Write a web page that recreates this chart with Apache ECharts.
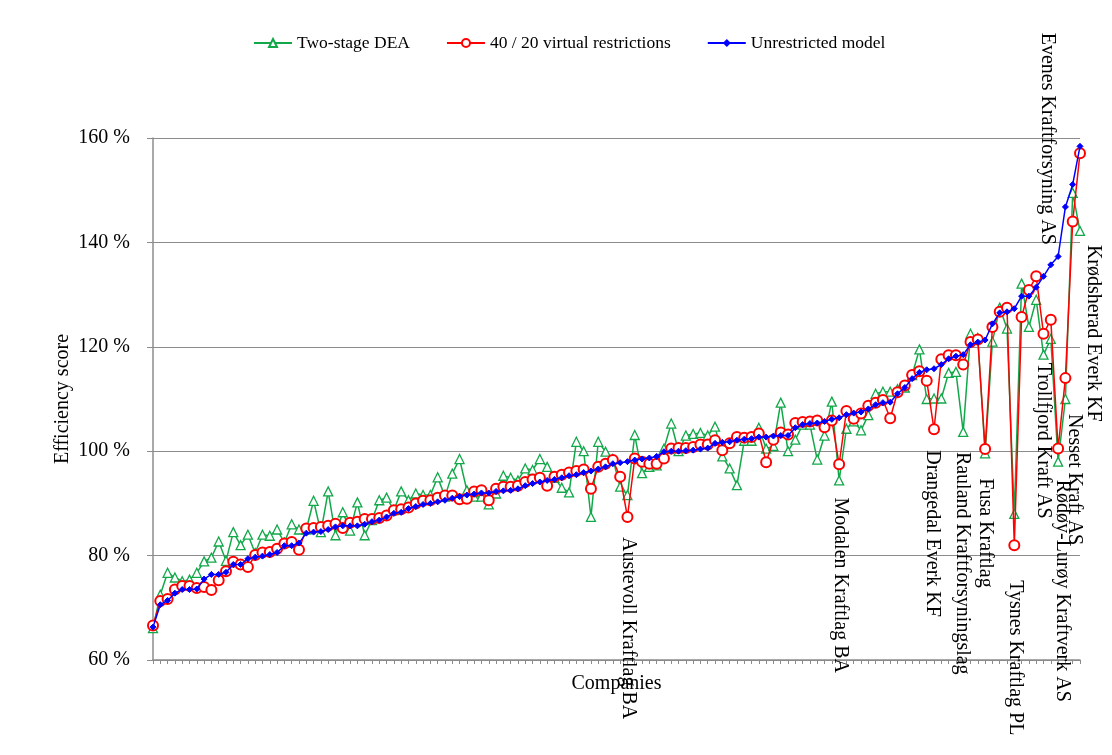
<!DOCTYPE html>
<html>
<head>
<meta charset="utf-8">
<script src="https://cdn.jsdelivr.net/npm/echarts@6/dist/echarts.min.js"></script>
<style>
  html, body { margin: 0; padding: 0; background: #fff; }
  #chart { position: absolute; left: 0; top: 0; width: 1112px; height: 755px; }
</style>
</head>
<body>
<div id="chart"></div>
<script>
// Efficiency scores (%) per company, sorted by the unrestricted model
const unrestricted = [
  66.3, 70.6, 71.4, 72.8, 73.5, 73.5, 73.6, 75.5, 76.4, 76.4,
  76.8, 78.3, 78.3, 79.4, 79.7, 79.9, 80.2, 80.6, 81.9, 81.9,
  82.4, 84.3, 84.5, 84.6, 85.0, 85.5, 85.7, 85.7, 85.7, 86.0,
  86.5, 86.8, 87.4, 88.1, 88.3, 89.0, 89.4, 89.8, 90.0, 90.3,
  90.6, 91.0, 91.3, 91.6, 91.8, 92.0, 92.0, 92.3, 92.4, 92.5,
  92.8, 93.4, 93.8, 94.1, 94.4, 94.6, 94.9, 95.3, 95.5, 95.9,
  96.2, 96.6, 97.0, 97.6, 97.8, 98.0, 98.3, 98.5, 98.7, 99.0,
  99.9, 100.0, 100.0, 100.1, 100.2, 100.4, 100.6, 101.5, 101.7, 101.8,
  102.1, 102.3, 102.4, 102.7, 102.7, 102.9, 103.0, 103.0, 104.5, 105.1,
  105.3, 105.4, 105.7, 106.1, 106.4, 107.0, 107.3, 107.5, 108.1, 108.9,
  109.3, 109.4, 111.0, 112.2, 113.9, 115.1, 115.6, 115.8, 116.6, 117.7,
  118.2, 118.5, 120.4, 120.9, 121.3, 124.4, 126.5, 126.7, 127.3, 129.7,
  129.7, 131.4, 133.5, 135.7, 137.3, 146.8, 151.1, 158.4
];
const virtualRestrictions = [
  66.6, 71.3, 71.7, 73.5, 74.2, 74.2, 73.8, 74.0, 73.4, 75.3,
  77.0, 78.8, 78.3, 77.8, 80.1, 80.6, 80.7, 81.3, 82.3, 82.6,
  81.1, 85.2, 85.3, 85.5, 85.7, 86.1, 85.3, 86.3, 86.5, 87.0,
  87.0, 87.2, 87.7, 88.7, 88.9, 89.2, 90.0, 90.5, 90.6, 91.1,
  91.5, 91.5, 90.8, 90.9, 92.3, 92.5, 90.6, 92.8, 93.2, 93.2,
  93.4, 94.1, 94.6, 94.9, 93.4, 95.1, 95.5, 95.9, 96.2, 96.5,
  92.8, 97.0, 97.6, 98.3, 95.1, 87.4, 98.6, 98.0, 97.6, 97.6,
  98.6, 100.5, 100.6, 100.6, 100.8, 101.3, 101.3, 102.1, 100.2, 101.5,
  102.7, 102.6, 102.7, 103.4, 97.9, 102.2, 103.6, 103.2, 105.4, 105.6,
  105.7, 105.9, 104.6, 105.9, 97.5, 107.7, 106.2, 107.2, 108.7, 109.3,
  109.8, 106.3, 111.3, 112.6, 114.6, 115.3, 113.5, 104.2, 117.6, 118.4,
  118.4, 116.6, 120.9, 121.4, 100.4, 123.8, 126.7, 127.5, 82.0, 125.7,
  130.9, 133.5, 122.5, 125.2, 100.5, 114.0, 144.0, 157.1
];
const twoStage = [
  66.1, 72.5, 76.7, 75.8, 75.1, 75.4, 76.7, 78.9, 79.6, 82.7,
  79.0, 84.5, 82.0, 84.0, 80.5, 84.0, 83.8, 85.0, 82.5, 86.0,
  85.0, 85.0, 90.5, 84.5, 92.3, 83.9, 88.3, 84.8, 90.2, 83.9,
  86.8, 90.6, 91.1, 88.7, 92.3, 90.6, 91.9, 91.6, 91.6, 95.0,
  91.3, 95.7, 98.5, 92.5, 91.3, 91.3, 89.8, 91.9, 95.3, 94.9,
  94.4, 96.7, 96.4, 98.5, 97.0, 94.9, 93.0, 92.1, 101.8, 100.0,
  87.4, 101.8, 99.9, 98.5, 93.2, 91.6, 103.1, 95.8, 97.0, 97.3,
  100.5, 105.3, 100.0, 103.0, 103.3, 103.5, 103.0, 104.7, 99.0, 96.7,
  93.5, 102.0, 102.0, 104.5, 100.5, 101.0, 109.3, 100.0, 102.2, 105.1,
  105.1, 98.4, 103.0, 109.5, 94.4, 104.3, 105.7, 104.0, 106.9, 111.0,
  111.4, 111.4, 111.9, 112.2, 114.6, 119.5, 110.0, 110.1, 110.1, 115.0,
  115.2, 103.7, 122.5, 121.7, 99.6, 121.0, 127.5, 123.5, 88.0, 132.1,
  123.8, 129.0, 118.5, 121.5, 98.0, 110.0, 149.5, 142.2
];
const companies = unrestricted.map((_, i) => 'C' + (i + 1));
const yTicks = [60, 80, 100, 120, 140, 160];

// Named companies and the position (index) they hold on the x axis
const namedCompanies = [
  'Austevoll Kraftlag BA', 'Modalen Kraftlag BA', 'Drangedal Everk KF',
  'Rauland Kraftforsyningslag', 'Fusa Kraftlag', 'Tysnes Kraftlag PL',
  'Trollfjord Kraft AS', 'Rødøy-Lurøy Kraftverk AS', 'Nesset Kraft AS',
  'Evenes Kraftforsyning AS', 'Krødsherad Everk KF'
];
const namedIndex = [65, 94, 107, 111, 114, 118, 122, 124, 125, 123, 127];
const namedSeries = ['r', 'g', 'r', 'g', 'g', 'r', 'g', 'g', 'r', 'b', 'g'];

// Label placement relative to the anchor point (pixels)
const labelStyle = [
  { dx: 1, dy: 20, side: 'below' },
  { dx: 1, dy: 17, side: 'below' },
  { dx: -2, dy: 21, side: 'below' },
  { dx: -1, dy: 20, side: 'below' },
  { dx: 0, dy: 25, side: 'below' },
  { dx: 1, dy: 35, side: 'below' },
  { dx: 0, dy: 8, side: 'below' },
  { dx: 4, dy: 18, side: 'below' },
  { dx: 9, dy: 36, side: 'below' },
  { dx: -4, dy: -20, side: 'above' },
  { dx: 13, dy: 14, side: 'below' }
];

const FONT = '"Liberation Serif", "Times New Roman", serif';
const GREEN = '#12a84a';
const RED = '#ff0000';
const BLUE = '#0000ff';
const GRAY = '#8c8c8c';

const chart = echarts.init(document.getElementById('chart'), null, { renderer: 'canvas' });

const option = {
  animation: false,
  backgroundColor: '#ffffff',
  textStyle: { fontFamily: FONT, color: '#000' },
  legend: {
    top: 29,
    left: 248,
    itemWidth: 38,
    itemHeight: 10,
    itemGap: 36,
    textStyle: { fontFamily: FONT, fontSize: 17.5, color: '#000' },
    data: ['Two-stage DEA', '40 / 20 virtual restrictions', 'Unrestricted model']
  },
  grid: { left: 153, right: 32, top: 138, bottom: 95, containLabel: false },
  xAxis: {
    type: 'category',
    data: companies,
    boundaryGap: false,
    name: 'Companies',
    nameLocation: 'middle',
    nameGap: 14,
    nameMoveOverlap: false,
    nameTextStyle: { fontFamily: FONT, fontSize: 20, color: '#000' },
    axisLine: { lineStyle: { color: GRAY, width: 1.5 } },
    axisTick: { show: true, interval: 0, length: 4, lineStyle: { color: GRAY } },
    axisLabel: { show: false },
    splitLine: { show: false }
  },
  yAxis: {
    type: 'value',
    min: 60,
    max: 160,
    interval: 20,
    name: 'Efficiency score',
    nameLocation: 'middle',
    nameGap: 80,
    nameRotate: 90,
    nameMoveOverlap: false,
    nameTextStyle: { fontFamily: FONT, fontSize: 20, color: '#000' },
    axisLine: { show: true, lineStyle: { color: GRAY, width: 1.5 } },
    axisTick: { show: true, length: 6, lineStyle: { color: GRAY } },
    axisLabel: {
      margin: 23,
      fontFamily: FONT,
      fontSize: 20,
      color: '#000',
      formatter: v => (yTicks.indexOf(v) >= 0 ? v + ' %' : '')
    },
    splitLine: { show: true, lineStyle: { color: GRAY, width: 1.2 } }
  },
  series: [
    {
      name: 'Two-stage DEA',
      type: 'line',
      data: twoStage,
      symbol: 'triangle',
      symbolSize: 9,
      showAllSymbol: true,
      itemStyle: { color: '#ffffff', borderColor: GREEN, borderWidth: 1.3 },
      lineStyle: { color: GREEN, width: 1.5 },
      z: 2
    },
    {
      name: '40 / 20 virtual restrictions',
      type: 'line',
      data: virtualRestrictions,
      symbol: 'emptyCircle',
      symbolSize: 10,
      showAllSymbol: true,
      itemStyle: { color: RED, borderColor: RED, borderWidth: 1.3 },
      lineStyle: { color: RED, width: 1.5 },
      z: 3
    },
    {
      name: 'Unrestricted model',
      type: 'line',
      data: unrestricted,
      symbol: 'diamond',
      symbolSize: 6,
      showAllSymbol: true,
      itemStyle: { color: BLUE, borderColor: BLUE },
      lineStyle: { color: BLUE, width: 1.5 },
      z: 4
    }
  ]
};

chart.setOption(option);

// Rotated company names next to the marked points
const seriesData = { r: virtualRestrictions, g: twoStage, b: unrestricted };
const labels = namedCompanies.map((name, k) => {
  const idx = namedIndex[k];
  const val = seriesData[namedSeries[k]][idx];
  const p = chart.convertToPixel({ xAxisIndex: 0, yAxisIndex: 0 }, [idx, val]);
  const st = labelStyle[k];
  return {
    type: 'text',
    x: p[0] + st.dx,
    y: p[1] + st.dy,
    rotation: -Math.PI / 2,
    z: 10,
    style: {
      text: name,
      font: '20px ' + FONT,
      fill: '#000',
      align: st.side === 'above' ? 'right' : 'left',
      verticalAlign: 'middle'
    }
  };
});
chart.setOption({ graphic: labels });
</script>
</body>
</html>
